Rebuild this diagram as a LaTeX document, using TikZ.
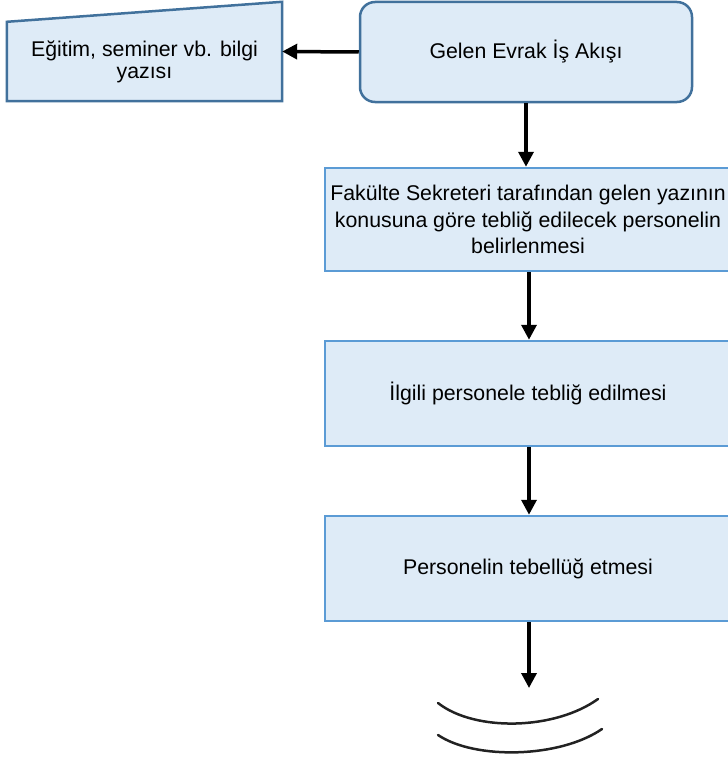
\documentclass[tikz,border=0pt]{standalone}
\usepackage{fontspec}
\setmainfont{Liberation Sans}
\usetikzlibrary{arrows.meta,calc}
\definecolor{boxfill}{HTML}{DEEBF7}
\definecolor{darkedge}{HTML}{41719C}
\definecolor{lightedge}{HTML}{5B9BD5}
\definecolor{arcgray}{HTML}{222222}
\tikzset{
  basefont/.style={font=\fontsize{21.3bp}{26.3bp}\selectfont},
  roundbox/.style={draw=darkedge, fill=boxfill, line width=2.5bp, rounded corners=15bp,
    minimum width=332bp, minimum height=100bp, basefont, align=center},
  stepbox/.style={draw=lightedge, fill=boxfill, line width=2.5bp,
    minimum width=406bp, minimum height=103bp, basefont, align=center},
  flowarrow/.style={line width=3.5bp, -{Triangle[width=15bp,length=15bp]}},
}
\begin{document}
\begin{tikzpicture}[x=1bp,y=-1bp]
\useasboundingbox (0,0) rectangle (728,765);

% manual input shape
\node[minimum width=275bp, minimum height=99bp, inner sep=0pt] (bilgi) at (144.5,51.5) {};
\draw[draw=darkedge, fill=boxfill, line width=2.5bp]
  (bilgi.south west) -- (bilgi.south east) -- (bilgi.north east)
  -- ($(bilgi.north west)+(0,20)$) -- cycle;
\node[basefont, align=center, font=\fontsize{21.3bp}{22bp}\selectfont] (bilgitext) at (144.5,61.5)
  {Eğitim, seminer vb. bilgi\\yazısı};

\node[roundbox] (gelen) at (526,52) {Gelen Evrak İş Akışı};

\node[stepbox] (fakulte) at (528,219.5)
  {Fakülte Sekreteri tarafından gelen yazının\\konusuna göre tebliğ edilecek personelin\\belirlenmesi};
\node[stepbox, minimum height=105bp] (ilgili) at (528,393.5) {İlgili personele tebliğ edilmesi};
\node[stepbox, minimum height=105bp] (tebellug) at (528,568.5) {Personelin tebellüğ etmesi};

\coordinate (son) at (529,688);

\draw[flowarrow] (gelen.west) -- (bilgi.east);
\draw[flowarrow] (gelen.south) -- (gelen.south |- fakulte.north);
\draw[flowarrow] ([xshift=1bp]fakulte.south) -- ([xshift=1bp]ilgili.north);
\draw[flowarrow] ([xshift=1bp]ilgili.south) -- ([xshift=1bp]tebellug.north);
\draw[flowarrow] ([xshift=1bp]tebellug.south) -- (son);

% arcs (end connector symbol)
\draw[arcgray, line width=2.5bp, line cap=round] (438,703) .. controls (475,732) and (555,730) .. (598,699);
\draw[arcgray, line width=2.5bp, line cap=round] (438,735) .. controls (475,760) and (560,758) .. (602,729);
\end{tikzpicture}
\end{document}
